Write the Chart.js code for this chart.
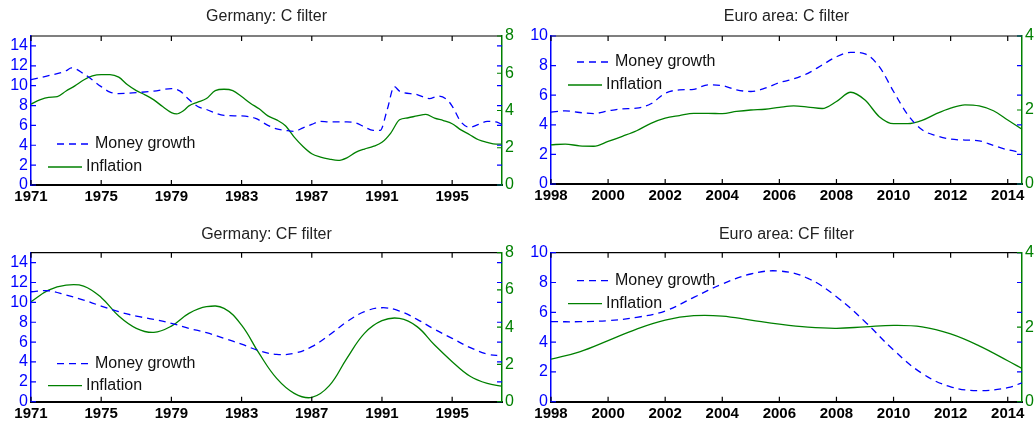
<!DOCTYPE html>
<html>
<head>
<meta charset="utf-8">
<script src="https://cdn.jsdelivr.net/npm/chart.js@4.4.0/dist/chart.umd.min.js"></script>
<style>
body { margin: 0; background: #fff; width: 1035px; height: 423px; overflow: hidden; position: relative; }
canvas { position: absolute; }
</style>
</head>
<body>
<canvas id="deC" width="517" height="210" style="left:0px;top:0px"></canvas>
<canvas id="euC" width="518" height="210" style="left:517px;top:0px"></canvas>
<canvas id="deCF" width="517" height="213" style="left:0px;top:210px"></canvas>
<canvas id="euCF" width="518" height="213" style="left:517px;top:210px"></canvas>
<script>
// Tick labels
const deYearTicks = [1971, 1975, 1979, 1983, 1987, 1991, 1995];
const euYearTicks = [1998, 2000, 2002, 2004, 2006, 2008, 2010, 2012, 2014];
const deMoneyTicks = [0, 2, 4, 6, 8, 10, 12, 14];
const deInflTicks = [0, 2, 4, 6, 8];
const euMoneyTicks = [0, 2, 4, 6, 8, 10];
const euInflTicks = [0, 2, 4];

// Germany: C filter
const deC_moneyX = [1971, 1972, 1973, 1973.3, 1974, 1975, 1975.5, 1976, 1977, 1978, 1979, 1979.5, 1980, 1980.5, 1981, 1982, 1983, 1983.8, 1984.5, 1985, 1985.5, 1986, 1986.5, 1987, 1987.5, 1988, 1989, 1989.5, 1990, 1990.5, 1990.9, 1991.3, 1991.7, 1992, 1993, 1993.7, 1994.2, 1994.7, 1995, 1995.5, 1996, 1996.5, 1997, 1997.5, 1997.84];
const deC_money = [10.6, 11.0, 11.5, 11.8, 11.2, 9.9, 9.35, 9.2, 9.3, 9.45, 9.7, 9.45, 8.6, 7.9, 7.6, 7.0, 6.95, 6.7, 6.0, 5.65, 5.5, 5.4, 5.75, 6.1, 6.4, 6.35, 6.35, 6.25, 5.85, 5.5, 5.5, 7.6, 9.9, 9.45, 9.1, 8.7, 8.95, 8.6, 7.95, 6.35, 5.8, 6.1, 6.4, 6.35, 6.1];
const deC_inflX = [1971, 1971.5, 1972, 1972.5, 1973, 1973.5, 1974, 1974.5, 1975, 1975.5, 1976, 1976.5, 1977, 1977.5, 1978, 1978.5, 1979, 1979.3, 1979.7, 1980, 1980.5, 1981, 1981.5, 1982, 1982.5, 1983, 1983.5, 1984, 1984.5, 1985, 1985.5, 1986, 1986.5, 1987, 1987.5, 1988, 1988.5, 1989, 1989.5, 1990, 1990.5, 1991, 1991.5, 1992, 1992.5, 1993, 1993.5, 1994, 1994.5, 1995, 1995.5, 1996, 1996.5, 1997, 1997.5, 1997.84];
const deC_infl = [4.34, 4.57, 4.71, 4.75, 5.05, 5.32, 5.64, 5.86, 5.93, 5.93, 5.79, 5.38, 5.07, 4.84, 4.57, 4.21, 3.89, 3.82, 4.0, 4.25, 4.45, 4.64, 5.07, 5.14, 5.07, 4.75, 4.39, 4.09, 3.71, 3.5, 3.18, 2.57, 2.07, 1.68, 1.5, 1.39, 1.32, 1.46, 1.75, 1.93, 2.07, 2.29, 2.79, 3.5, 3.61, 3.71, 3.79, 3.59, 3.46, 3.29, 2.96, 2.7, 2.43, 2.29, 2.2, 2.2];

// Euro area: C filter
const euC_x = [1998, 1998.5, 1999, 1999.5, 2000, 2000.5, 2001, 2001.5, 2002, 2002.5, 2003, 2003.5, 2004, 2004.5, 2005, 2005.5, 2006, 2006.5, 2007, 2007.5, 2008, 2008.5, 2009, 2009.5, 2010, 2010.5, 2011, 2011.5, 2012, 2012.5, 2013, 2013.5, 2014, 2014.5];
const euC_money = [4.85, 4.94, 4.83, 4.76, 4.94, 5.08, 5.12, 5.42, 6.13, 6.36, 6.4, 6.7, 6.65, 6.36, 6.25, 6.47, 6.85, 7.1, 7.48, 8.04, 8.6, 8.9, 8.79, 7.93, 6.25, 4.67, 3.66, 3.26, 3.03, 2.97, 2.92, 2.6, 2.31, 2.13];
const euC_infl = [1.06, 1.08, 1.03, 1.02, 1.15, 1.29, 1.44, 1.64, 1.78, 1.85, 1.91, 1.91, 1.9, 1.96, 2.0, 2.02, 2.07, 2.11, 2.08, 2.04, 2.23, 2.48, 2.27, 1.82, 1.63, 1.63, 1.72, 1.9, 2.05, 2.14, 2.11, 1.98, 1.73, 1.48];

// Germany: CF filter
const deCF_x = [1971, 1972, 1973, 1974, 1975, 1976, 1977, 1978, 1979, 1980, 1981, 1982, 1983, 1984, 1985, 1986, 1987, 1988, 1989, 1990, 1991, 1992, 1993, 1994, 1995, 1996, 1997, 1997.84];
const deCF_money = [11.07, 11.17, 10.74, 10.23, 9.63, 9.06, 8.62, 8.29, 7.89, 7.38, 6.95, 6.38, 5.8, 5.13, 4.77, 4.87, 5.54, 6.71, 8.05, 9.06, 9.46, 9.13, 8.29, 7.28, 6.38, 5.47, 4.8, 4.6];
const deCF_infl = [5.37, 5.99, 6.26, 6.21, 5.6, 4.6, 3.94, 3.72, 4.06, 4.74, 5.1, 5.01, 4.11, 2.59, 1.25, 0.45, 0.23, 0.86, 2.33, 3.67, 4.35, 4.47, 4.03, 3.04, 2.15, 1.38, 0.98, 0.84];

// Euro area: CF filter
const euCF_x = [1998, 1999, 2000, 2001, 2002, 2003, 2004, 2005, 2006, 2007, 2008, 2009, 2010, 2011, 2012, 2013, 2014, 2014.5];
const euCF_money = [5.37, 5.37, 5.44, 5.66, 6.09, 7.0, 7.9, 8.57, 8.77, 8.28, 7.05, 5.37, 3.47, 1.9, 1.0, 0.74, 0.94, 1.27];
const euCF_infl = [1.14, 1.34, 1.64, 1.95, 2.19, 2.31, 2.3, 2.19, 2.08, 2.0, 1.97, 2.01, 2.05, 2.01, 1.82, 1.5, 1.1, 0.89];

const BLUE = '#0000ff';
const GREEN = '#008000';
const FONT = 'Liberation Sans, Arial, sans-serif';

// MATLAB-like inward ticks, top border and legend inside the axes
const boxPlugin = {
    id: 'boxPlugin',
    afterDraw(chart, args, opts) {
        const ctx = chart.ctx;
        const a = chart.chartArea;
        const sx = chart.scales.x, sy = chart.scales.y, sy1 = chart.scales.y1;
        ctx.save();
        ctx.lineWidth = 1.2;
        ctx.strokeStyle = '#000';
        ctx.beginPath();
        ctx.moveTo(a.left, a.top); ctx.lineTo(a.right, a.top);
        sx.ticks.forEach(t => {
            const p = sx.getPixelForValue(t.value);
            ctx.moveTo(p, a.bottom); ctx.lineTo(p, a.bottom - 5);
            ctx.moveTo(p, a.top); ctx.lineTo(p, a.top + 5);
        });
        ctx.stroke();
        ctx.strokeStyle = BLUE;
        ctx.beginPath();
        sy.ticks.forEach(t => {
            const p = sy.getPixelForValue(t.value);
            ctx.moveTo(a.left, p); ctx.lineTo(a.left + 5, p);
            ctx.moveTo(a.right, p); ctx.lineTo(a.right - 5, p);
        });
        ctx.stroke();
        ctx.strokeStyle = GREEN;
        ctx.beginPath();
        sy1.ticks.forEach(t => {
            const p = sy1.getPixelForValue(t.value);
            ctx.moveTo(a.right, p); ctx.lineTo(a.right - 5, p);
        });
        ctx.stroke();

        // legend
        ctx.font = '16px ' + FONT;
        ctx.textBaseline = 'middle';
        ctx.fillStyle = '#111';
        chart.data.datasets.forEach((ds, i) => {
            const e = opts.entries[i];
            const y = a.top + opts.rows[i];
            ctx.strokeStyle = ds.borderColor;
            ctx.lineWidth = ds.borderWidth;
            ctx.setLineDash(ds.borderDash || []);
            ctx.beginPath();
            ctx.moveTo(a.left + e.x0, y); ctx.lineTo(a.left + e.x1, y);
            ctx.stroke();
            ctx.setLineDash([]);
            ctx.fillText(ds.label, a.left + e.tx, y);
        });
        ctx.restore();
    }
};

function pts(xs, ys) {
    return xs.map((x, i) => ({ x: x, y: ys[i] }));
}

function makePanel(id, p) {
    const fixTicks = arr => (s => { s.ticks = arr.map(v => ({ value: v })); });
    const plain = v => String(v);
    return new Chart(document.getElementById(id), {
        type: 'line',
        data: {
            datasets: [{
                label: 'Money growth',
                data: pts(p.moneyX, p.money),
                yAxisID: 'y',
                borderColor: BLUE,
                borderWidth: 1.3,
                borderDash: [7, 5],
                pointRadius: 0,
                tension: p.tension,
                cubicInterpolationMode: p.mode
            }, {
                label: 'Inflation',
                data: pts(p.inflX, p.infl),
                yAxisID: 'y1',
                borderColor: GREEN,
                borderWidth: 1.3,
                pointRadius: 0,
                tension: p.tension,
                cubicInterpolationMode: p.mode
            }]
        },
        options: {
            responsive: false,
            animation: false,
            events: [],
            layout: { padding: 0 },
            plugins: {
                legend: { display: false },
                tooltip: { enabled: false },
                title: {
                    display: true,
                    text: p.title,
                    fullSize: false,
                    color: '#222',
                    font: { family: FONT, size: 16, weight: 'normal', lineHeight: 1.2 },
                    padding: p.titlePad
                },
                boxPlugin: {
                    rows: p.legendRows,
                    entries: [{ x0: 26, x1: 59, tx: 64 }, { x0: 17, x1: 51, tx: 55 }]
                }
            },
            scales: {
                x: {
                    type: 'linear',
                    min: p.xMin, max: p.xMax,
                    afterBuildTicks: fixTicks(p.xTicks),
                    afterFit: s => { s.height = p.bottomH; },
                    grid: { display: false, drawTicks: false },
                    border: { color: '#000', width: 2 },
                    ticks: { color: '#000', padding: 3, maxRotation: 0, autoSkip: false, callback: plain,
                             font: { family: FONT, size: 15, weight: 'bold' } }
                },
                y: {
                    position: 'left',
                    min: 0, max: p.leftMax,
                    afterBuildTicks: fixTicks(p.leftTicks),
                    afterFit: s => { s.width = p.leftW; },
                    grid: { display: false, drawTicks: false },
                    border: { color: BLUE, width: 1.5 },
                    ticks: { color: BLUE, padding: 3, autoSkip: false, callback: plain,
                             font: { family: FONT, size: 16 } }
                },
                y1: {
                    position: 'right',
                    min: 0, max: p.rightMax,
                    afterBuildTicks: fixTicks(p.rightTicks),
                    afterFit: s => { s.width = p.rightW; },
                    grid: { display: false, drawTicks: false },
                    border: { color: GREEN, width: 1.5 },
                    ticks: { color: GREEN, padding: 3, autoSkip: false, callback: plain,
                             font: { family: FONT, size: 16 } }
                }
            }
        },
        plugins: [boxPlugin]
    });
}

makePanel('deC', {
    title: 'Germany: C filter', titlePad: { top: 7.4, bottom: 9.4 }, bottomH: 25, leftW: 31, rightW: 15,
    xMin: 1971, xMax: 1997.84, xTicks: deYearTicks,
    leftMax: 15, leftTicks: deMoneyTicks, rightMax: 8, rightTicks: deInflTicks,
    moneyX: deC_moneyX, money: deC_money, inflX: deC_inflX, infl: deC_infl,
    tension: 0, mode: 'monotone', legendRows: [108, 131]
});
makePanel('euC', {
    title: 'Euro area: C filter', titlePad: { top: 7.4, bottom: 9.4 }, bottomH: 26, leftW: 34, rightW: 13,
    xMin: 1998, xMax: 2014.5, xTicks: euYearTicks,
    leftMax: 10, leftTicks: euMoneyTicks, rightMax: 4, rightTicks: euInflTicks,
    moneyX: euC_x, money: euC_money, inflX: euC_x, infl: euC_infl,
    tension: 0, mode: 'monotone', legendRows: [26, 49]
});
makePanel('deCF', {
    title: 'Germany: CF filter', titlePad: { top: 15.4, bottom: 8.1 }, bottomH: 21.3, leftW: 31, rightW: 15,
    xMin: 1971, xMax: 1997.84, xTicks: deYearTicks,
    leftMax: 15, leftTicks: deMoneyTicks, rightMax: 8, rightTicks: deInflTicks,
    moneyX: deCF_x, money: deCF_money, inflX: deCF_x, infl: deCF_infl,
    tension: 0.4, mode: 'default', legendRows: [111, 133]
});
makePanel('euCF', {
    title: 'Euro area: CF filter', titlePad: { top: 15.4, bottom: 8.1 }, bottomH: 21.3, leftW: 34, rightW: 13,
    xMin: 1998, xMax: 2014.5, xTicks: euYearTicks,
    leftMax: 10, leftTicks: euMoneyTicks, rightMax: 4, rightTicks: euInflTicks,
    moneyX: euCF_x, money: euCF_money, inflX: euCF_x, infl: euCF_infl,
    tension: 0.4, mode: 'default', legendRows: [28, 51]
});
</script>
</body>
</html>
